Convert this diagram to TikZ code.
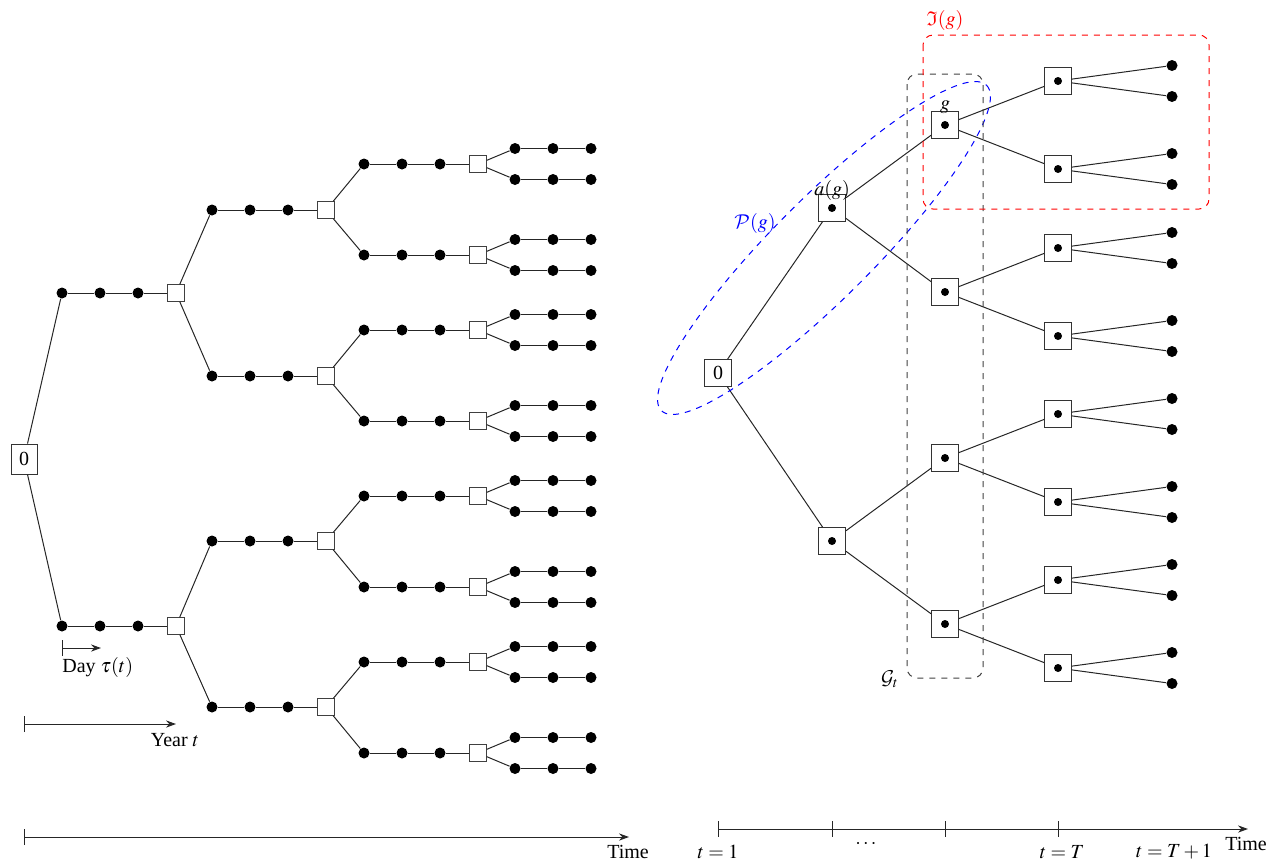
\documentclass[tikz,border=0pt]{standalone}
\usepackage{mathptmx}
\usepackage{amssymb}
\DeclareMathAlphabet{\mathcal}{OMS}{cmsy}{m}{n}
\usepackage{fontspec}
\setmainfont{Liberation Serif}
\usetikzlibrary{arrows.meta}
\newcommand\lchain[3]{%
  \node[dotn] (#1a) at (#2,#3) {};
  \node[dotn] (#1b) at (#2+38,#3) {};
  \node[dotn] (#1c) at (#2+76,#3) {};
  \node[sqn] (#1s) at (#2+114,#3) {};
  \draw[edge] (#1a)--(#1b)--(#1c)--(#1s);}
\newcommand\lleaf[3]{%
  \node[dotn] (#1a) at (#2,#3) {};
  \node[dotn] (#1b) at (#2+38,#3) {};
  \node[dotn] (#1c) at (#2+76,#3) {};
  \draw[edge] (#1a)--(#1b)--(#1c);}
\begin{document}
\begin{tikzpicture}[x=0.5pt,y=-0.5pt,
  dotn/.style={circle,fill,inner sep=0pt,minimum size=5.5pt},
  sqn/.style={rectangle,draw=black!75,fill=white,inner sep=0pt,minimum size=8.3pt},
  bsq/.style={rectangle,draw=black!80,inner sep=0pt,minimum size=13.5pt,
    path picture={\fill (path picture bounding box.center) circle (2pt);}},
  rootn/.style={rectangle,draw=black!80,inner sep=1pt,font=\fontsize{10}{12}\selectfont},
  edge/.style={draw=black!85,line width=0.5pt},
  axisline/.style={line width=0.5pt,black!85,-{Stealth[length=5pt,width=3.6pt]}},
  tickl/.style={line width=0.5pt,black!85},
  lab/.style={font=\fontsize{10}{12}\selectfont,inner sep=0pt}]
\useasboundingbox (0,0) rectangle (1283,863);

% ---------------- left tree ----------------
\node[rootn,minimum width=13pt,minimum height=15pt] (L0) at (24,459) {0};
\lchain{A}{62}{293}
\lchain{B}{62}{626}
\draw[edge] (L0)--(Aa); \draw[edge] (L0)--(Ba);
\lchain{AA}{212}{210} \lchain{AB}{212}{376}
\lchain{BA}{212}{541} \lchain{BB}{212}{707}
\draw[edge] (As)--(AAa); \draw[edge] (As)--(ABa);
\draw[edge] (Bs)--(BAa); \draw[edge] (Bs)--(BBa);
\lchain{AAA}{364}{164} \lchain{AAB}{364}{255}
\lchain{ABA}{364}{330} \lchain{ABB}{364}{421}
\lchain{BAA}{364}{496} \lchain{BAB}{364}{587}
\lchain{BBA}{364}{662} \lchain{BBB}{364}{753}
\draw[edge] (AAs)--(AAAa); \draw[edge] (AAs)--(AABa);
\draw[edge] (ABs)--(ABAa); \draw[edge] (ABs)--(ABBa);
\draw[edge] (BAs)--(BAAa); \draw[edge] (BAs)--(BABa);
\draw[edge] (BBs)--(BBAa); \draw[edge] (BBs)--(BBBa);
\foreach \n/\y in {AAA/164,AAB/255,ABA/330,ABB/421,BAA/496,BAB/587,BBA/662,BBB/753}{
  \lleaf{\n A}{515}{\y-15.5}
  \lleaf{\n B}{515}{\y+15.5}
  \draw[edge] (\n s)--(\n Aa);
  \draw[edge] (\n s)--(\n Ba);
}
% day / year arrows
\coordinate (d0) at (62,648); \coordinate (d1) at (101,648);
\draw[line width=0.5pt,black!85,{Bar[width=8pt]}-{Stealth[length=5pt,width=3.6pt]}] (d0)--(d1);
\node[lab,anchor=north west] (dayl) at (62,657) {Day $\tau(t)$};
\coordinate (y0) at (24,724); \coordinate (y1) at (176,724);
\draw[line width=0.5pt,black!85,{Bar[width=8pt]}-{Stealth[length=5pt,width=3.6pt]}] (y0)--(y1);
\node[lab,anchor=north] (yearl) at (175,733) {Year $t$};
% time axis left
\coordinate (t0) at (24,837); \coordinate (t1) at (629,837);
\draw[line width=0.5pt,black!85,{Bar[width=8pt]}-{Stealth[length=5pt,width=3.6pt]}] (t0)--(t1);
\node[lab] (timel) at (628,852) {Time};

% ---------------- right tree ----------------
\node[rootn,minimum size=13.5pt] (R0) at (718,373) {0};
\node[bsq] (R1) at (832,208) {};
\node[bsq] (R2) at (832,541) {};
\draw[edge] (R0)--(R1); \draw[edge] (R0)--(R2);
\node[bsq] (R11) at (945,125) {};
\node[bsq] (R12) at (945,292) {};
\node[bsq] (R21) at (945,458) {};
\node[bsq] (R22) at (945,624) {};
\draw[edge] (R1)--(R11); \draw[edge] (R1)--(R12);
\draw[edge] (R2)--(R21); \draw[edge] (R2)--(R22);
\foreach \p/\y in {R11/125,R12/292,R21/458,R22/624}{
  \node[bsq] (\p a) at (1058,\y-44) {};
  \node[bsq] (\p b) at (1058,\y+44) {};
  \draw[edge] (\p)--(\p a); \draw[edge] (\p)--(\p b);
  \foreach \q/\z in {a/-44,b/44}{
    \node[dotn] (\p\q x) at (1172,\y+\z-15.5) {};
    \node[dotn] (\p\q y) at (1172,\y+\z+15.5) {};
    \draw[edge] (\p\q)--(\p\q x); \draw[edge] (\p\q)--(\p\q y);
  }
}
% labels
\node[lab,anchor=base] (lag) at (832,195) {$a(g)$};
\node[lab,anchor=base] (lg) at (945,109) {$g$};
\node[lab,blue] (lP) at (755,223) {$\mathcal{P}(g)$};
\node[lab,red] (lI) at (945,20) {$\mathfrak{I}(g)$};
\node[lab] (lG) at (890,679) {$\mathcal{G}_t$};
% regions
\draw[blue,dashed,line width=0.5pt,rotate around={45:(824,248)}] (824,248) ellipse [x radius=230, y radius=50];
\draw[black!75,dashed,line width=0.5pt,rounded corners=5pt] (907,74) rectangle (983,678);
\draw[red,dashed,line width=0.5pt,rounded corners=5pt] (923,35) rectangle (1209,209);
% time axis right
\coordinate (s0) at (718,829); \coordinate (s1) at (832,829);
\coordinate (s2) at (945,829); \coordinate (s3) at (1058,829);
\coordinate (s4) at (1248,829);
\draw[axisline] (s0)--(s4);
\foreach \c in {s0,s1,s2,s3}{\draw[tickl] ([yshift=4pt]\c)--([yshift=-4pt]\c);}
\node[lab] (lt1) at (718,852) {$t=1$};
\node[lab] (ldots) at (866,844) {$\cdots$};
\node[lab] (ltT) at (1062,852) {$t=T$};
\node[lab] (ltT1) at (1174,852) {$t=T+1$};
\node[lab] (time2) at (1246,844) {Time};
\end{tikzpicture}
\end{document}
